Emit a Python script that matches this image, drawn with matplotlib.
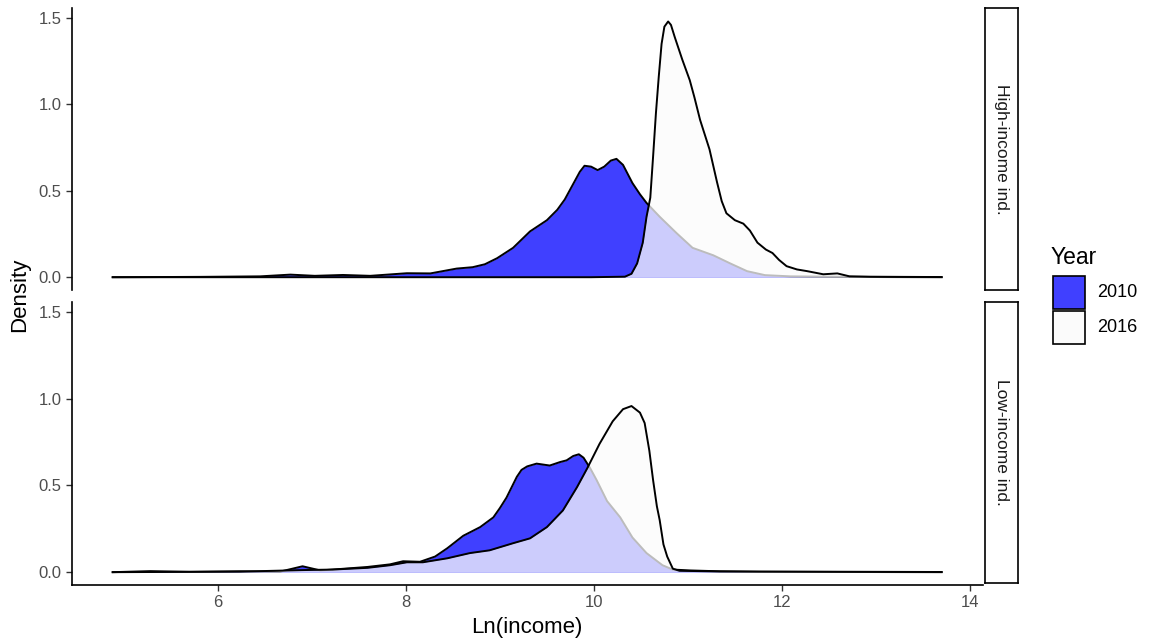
import numpy as np
import matplotlib.pyplot as plt
from matplotlib.patches import Rectangle

plt.rcParams['font.family'] = ['Liberation Sans', 'DejaVu Sans']

# High-income individuals
hi_x_2010 = [4.88, 5.81, 6.45, 6.77, 7.03, 7.33, 7.62, 7.88, 8.01, 8.26, 8.54, 8.71,
             8.84, 8.97, 9.14, 9.32, 9.50, 9.61, 9.69, 9.74, 9.81, 9.85, 9.90, 9.97,
             10.04, 10.11, 10.18, 10.24, 10.31, 10.41, 10.49, 10.56, 10.70, 10.88,
             11.05, 11.27, 11.45, 11.63, 11.82, 12.09, 12.51, 13.04, 13.70]
hi_y_2010 = [0, 0.002, 0.005, 0.015, 0.008, 0.013, 0.008, 0.018, 0.023, 0.022, 0.05, 0.058,
             0.075, 0.11, 0.17, 0.265, 0.33, 0.39, 0.45, 0.50, 0.57, 0.61, 0.645, 0.64,
             0.62, 0.64, 0.675, 0.685, 0.65, 0.545, 0.48, 0.43, 0.35, 0.255,
             0.17, 0.127, 0.08, 0.035, 0.012, 0.005, 0.003, 0.001, 0]

hi_x_2016 = [4.88, 9.97, 10.33, 10.40, 10.46, 10.52, 10.56, 10.60, 10.63, 10.66, 10.69,
             10.72, 10.75, 10.79, 10.82, 10.86, 10.94, 11.02, 11.07, 11.13, 11.23, 11.31,
             11.36, 11.41, 11.50, 11.59, 11.66, 11.74, 11.83, 11.90, 11.97, 12.05, 12.16,
             12.27, 12.44, 12.59, 12.72, 12.94, 13.26, 13.70]
hi_y_2016 = [0, 0, 0.003, 0.02, 0.08, 0.20, 0.35, 0.46, 0.70, 0.95, 1.16,
             1.35, 1.45, 1.48, 1.46, 1.39, 1.26, 1.14, 1.04, 0.91, 0.74, 0.55,
             0.44, 0.37, 0.33, 0.31, 0.27, 0.20, 0.16, 0.14, 0.10, 0.064, 0.045,
             0.035, 0.017, 0.022, 0.005, 0.003, 0.002, 0.001]

# Low-income individuals
lo_x_2010 = [4.88, 5.28, 5.70, 6.23, 6.66, 6.90, 7.09, 7.22, 7.59, 7.83, 7.97, 8.15,
             8.31, 8.44, 8.61, 8.79, 8.93, 9.00, 9.07, 9.18, 9.23, 9.29, 9.39, 9.53,
             9.64, 9.71, 9.78, 9.84, 9.89, 9.96, 10.03, 10.14, 10.28, 10.41, 10.56,
             10.73, 10.84, 11.02, 11.34, 11.77, 13.70]
lo_y_2010 = [0, 0.006, 0.002, 0.005, 0.003, 0.034, 0.01, 0.015, 0.03, 0.045, 0.063, 0.06,
             0.09, 0.138, 0.21, 0.26, 0.316, 0.37, 0.43, 0.55, 0.59, 0.61, 0.626, 0.615,
             0.635, 0.645, 0.67, 0.68, 0.66, 0.60, 0.53, 0.41, 0.316, 0.20, 0.11,
             0.04, 0.015, 0.01, 0.005, 0.002, 0]

lo_x_2016 = [4.88, 6.23, 6.90, 7.22, 7.59, 7.83, 8.01, 8.18, 8.44, 8.68, 8.89, 9.14,
             9.32, 9.50, 9.67, 9.82, 9.93, 10.06, 10.20, 10.31, 10.40, 10.49, 10.54,
             10.59, 10.63, 10.67, 10.70, 10.74, 10.78, 10.84, 10.91, 11.34, 12.19, 13.70]
lo_y_2016 = [0, 0.003, 0.012, 0.015, 0.025, 0.04, 0.057, 0.057, 0.08, 0.11, 0.126, 0.167,
             0.195, 0.26, 0.356, 0.49, 0.60, 0.74, 0.87, 0.94, 0.958, 0.92, 0.86,
             0.70, 0.53, 0.38, 0.30, 0.16, 0.09, 0.02, 0.008, 0.004, 0.003, 0.001]

panels = [("High-income ind.", hi_x_2010, hi_y_2010, hi_x_2016, hi_y_2016),
          ("Low-income ind.", lo_x_2010, lo_y_2010, lo_x_2016, lo_y_2016)]

W, H = 1151, 641
fig = plt.figure(figsize=(W / 100, H / 100), dpi=100)

def px_axes(x0, y0, x1, y1):
    return fig.add_axes([x0 / W, 1 - y1 / H, (x1 - x0) / W, (y1 - y0) / H])

blue = (0, 0, 1, 0.75)
white = (0.99, 0.99, 0.99, 0.75)
boxes = [(8, 290), (302, 585)]

for i, (name, x10, y10, x16, y16) in enumerate(panels):
    top, bot = boxes[i]
    ax = px_axes(72, top, 983, bot)
    # 2010 first, then 2016 on top (its fill greys the 2010 outline)
    ax.fill_between(x10, y10, color=blue, lw=0, zorder=1)
    ax.plot(x10, y10, color='black', lw=1.4, zorder=2)
    ax.fill_between(x16, y16, color=white, lw=0, zorder=3)
    ax.plot(x16, y16, color='black', lw=1.4, zorder=4)
    ax.set_xlim(4.447, 14.14)
    ax.set_ylim(-0.074, 1.558)
    ax.set_yticks([0, 0.5, 1.0, 1.5])
    ax.set_yticklabels(['0.0', '0.5', '1.0', '1.5'])
    ax.set_xticks([6, 8, 10, 12, 14])
    for s in ['top', 'right']:
        ax.spines[s].set_visible(False)
    ax.spines['left'].set_linewidth(1.2)
    ax.spines['bottom'].set_linewidth(1.2)
    ax.tick_params(labelsize=12, labelcolor='#4D4D4D', length=4, width=1, color='#333333')
    if i == 0:
        ax.spines['bottom'].set_visible(False)
        ax.tick_params(axis='x', bottom=False, labelbottom=False)

    # strip on the right
    sax = px_axes(985, top, 1018, bot - 2 if i == 1 else bot)
    sax.set_xticks([])
    sax.set_yticks([])
    for s in sax.spines.values():
        s.set_linewidth(1.2)
    sax.text(0.5, 0.5, name, rotation=-90, ha='center', va='center',
             fontsize=12.5, color='#1A1A1A', transform=sax.transAxes)

fig.text(20 / W, 1 - 295 / H, "Density", rotation=90, ha='center', va='center', fontsize=16)
fig.text(527 / W, 1 - 627 / H, "Ln(income)", ha='center', va='center', fontsize=16)

# legend
lax = px_axes(1040, 240, 1151, 360)
lax.set_xlim(1040, 1151)
lax.set_ylim(360, 240)
lax.axis('off')
lax.text(1051, 258, "Year", ha='left', va='center', fontsize=16.5)
years = ['2010', '2016']
key_cols = [blue, (0.985, 0.985, 0.985, 1)]
for k, yr in enumerate(years):
    y0 = 276 + k * 35
    lax.add_patch(Rectangle((1053, y0), 32, 33, facecolor=key_cols[k],
                            edgecolor='black', lw=1.2))
    lax.text(1097, y0 + 17, yr, ha='left', va='center', fontsize=13)

plt.savefig('out.png', dpi=100)
